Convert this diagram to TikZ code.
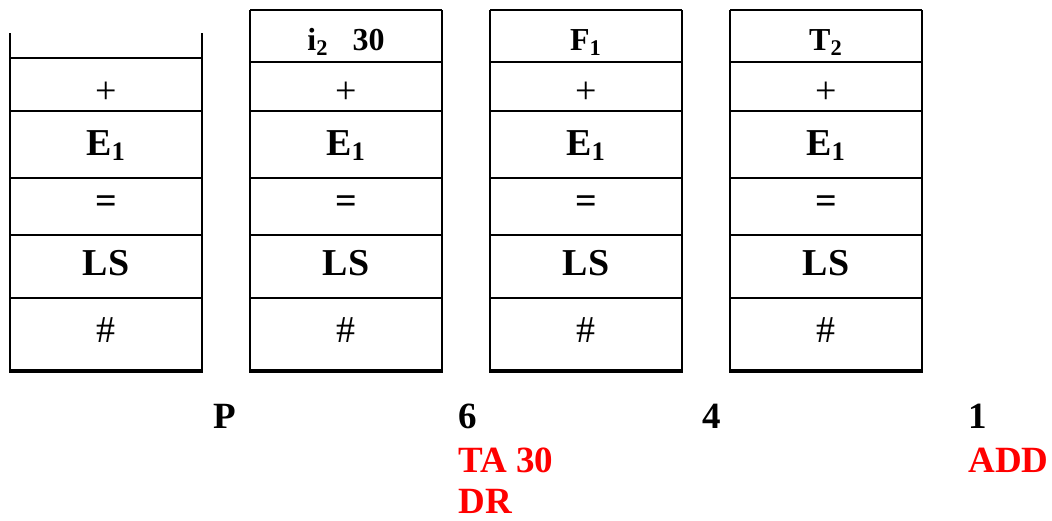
\documentclass[tikz,border=0pt]{standalone}
\usepackage{fontspec}
\setmainfont{Liberation Serif}

\begin{document}
\begin{tikzpicture}[x=0.5pt,y=-0.5pt]
    \tikzstyle{every node}+=[inner sep=0pt]
    \tikzstyle{wall}=[line width=1.2pt]
    \tikzstyle{row}=[line width=0.9pt]
    \tikzstyle{floor}=[line width=1.7pt]
    \tikzstyle{big}=[font=\bfseries\fontsize{19}{19}\selectfont]
    \tikzstyle{sym}=[font=\fontsize{19}{19}\selectfont]
    \tikzstyle{topcell}=[font=\bfseries\fontsize{16}{16}\selectfont]
    \tikzstyle{lbl}=[font=\bfseries\fontsize{18.5}{18.5}\selectfont, anchor=base west]
    \tikzstyle{act}=[lbl, text=red]
    \useasboundingbox (0,0) rectangle (1052,520);
    % the four stacks, first one still open at the top
    \foreach \x/\s/\t/\r in {10/a/33/58,250/b/10/62,490/c/10/62,730/d/10/62} {
        \draw [wall] (\x,\t) -- (\x,371) (\x+192,\t) -- (\x+192,371);
        \draw [row] (\x,\r) -- +(192,0);
        \foreach \y in {111,178,235,298}
            \draw [row] (\x,\y) -- +(192,0);
        \draw [floor] (\x-0.6,371) -- (\x+192.6,371);
        \node [sym] (plus-\s) at (\x+96,93) {+};
        \node [big, anchor=base] (e-\s) at (\x+96,155) {E\textsubscript{1}};
        \node [big] (eq-\s) at (\x+96,205) {=};
        \node [big, anchor=base] (ls-\s) at (\x+96,275) {LS};
        \node [sym] (hash-\s) at (\x+96,330) {\#};
    }
    \foreach \x in {250,490,730}
        \draw [wall] (\x,10) -- +(192,0);
    % top of stack
    \node [topcell, anchor=base] (top-b) at (346,50) {i\textsubscript{2}\hspace{12pt}30};
    \node [topcell, anchor=base] (top-c) at (586,50) {F\textsubscript{1}};
    \node [topcell, anchor=base] (top-d) at (826,50) {T\textsubscript{2}};
    % input symbols and actions
    \node [lbl] (in-p) at (213,428) {P};
    \node [lbl] (in-6) at (458,428) {6};
    \node [lbl] (in-4) at (702,428) {4};
    \node [lbl] (in-1) at (968,428) {1};
    \node [act] (act-ta) at (458,472) {TA 30};
    \node [act] (act-dr) at (458,513) {DR};
    \node [act] (act-add) at (968,472) {ADD};
\end{tikzpicture}
\end{document}
